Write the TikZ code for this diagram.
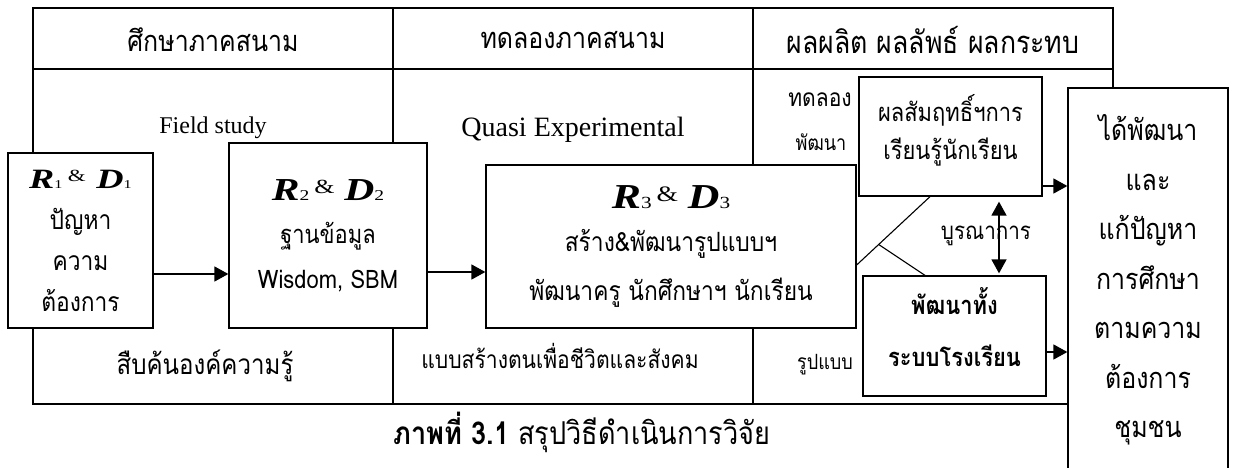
\documentclass[tikz,border=0pt]{standalone}
\usepackage{graphicx}
\usepackage{fontspec}
\setmainfont{Liberation Serif}
\newfontfamily\thaifont[Script=Thai, FakeStretch=0.86]{Loma}
\usetikzlibrary{arrows.meta}
\newcommand{\thai}[2]{{\fontsize{#1}{#1}\selectfont\thaifont #2}}
% R_n & D_n: digit, letter size, subscript size, & size, horizontal scale
\newcommand{\rd}[5]{\scalebox{#5}[1]{\normalfont
  {\fontsize{#2}{#2}\selectfont\bfseries\itshape R}%
  {\fontsize{#3}{#3}\selectfont #1}\hspace{0.15em}%
  \raisebox{0.25em}{\fontsize{#4}{#4}\selectfont\&}\hspace{0.3em}%
  {\fontsize{#2}{#2}\selectfont\bfseries\itshape D}%
  {\fontsize{#3}{#3}\selectfont #1}}}

\begin{document}
\begin{tikzpicture}[x=1pt, y=-1pt,
    frame/.style={line width=1.3pt},
    box/.style={draw, line width=1.3pt, fill=white, inner sep=0pt, align=center},
    arr/.style={line width=1.6pt, -{Triangle[length=14pt, width=15pt]}},
    dbl/.style={line width=1.6pt, {Triangle[length=14pt, width=15pt]}-{Triangle[length=14pt, width=15pt]}},
    link/.style={line width=1.1pt}]

  \fill[white] (0,0) rectangle (1234,468);
  \useasboundingbox (0,0) rectangle (1234,468);

  %% frame: header row and three columns
  \draw[frame] (33,8) rectangle (1113,404);
  \draw[frame] (33,69) -- (1113,69);
  \draw[frame] (393,8) -- (393,404);
  \draw[frame] (753,8) -- (753,404);

  \node (head1) at (213,40) {\thai{29}{ศึกษาภาคสนาม}};
  \node (head2) at (573,40) {\thai{29}{ทดลองภาคสนาม}};
  \node (head3) at (933,40) {\thai{31}{ผลผลิต ผลลัพธ์ ผลกระทบ}};

  \node (field) at (213,128) {\fontsize{24}{24}\selectfont Field study};
  \node (quasi) at (573,130) {\fontsize{28}{28}\selectfont Quasi Experimental};
  \node (trial) at (820,100) {\thai{24.5}{ทดลอง}};
  \node (devel) at (821,142) {\thai{21}{พัฒนา}};

  \node (search) at (205,366) {\thai{28}{สืบค้นองค์ความรู้}};
  \node (model)  at (560,356) {\thai{24.5}{แบบสร้างตนเพื่อชีวิตและสังคม}};
  \node (form)   at (825,365) {\thai{21}{รูปแบบ}};

  %% boxes
  \node[box, minimum width=145pt, minimum height=175pt,
        font=\thaifont\fontsize{26.5}{41}\selectfont] (rd1) at (80.5,240.5)
    {\rd{1}{28}{12}{17}{1.35}\\ปัญหา\\ความ\\ต้องการ};
  \node[box, minimum width=198pt, minimum height=185pt,
        font=\thaifont\fontsize{25.5}{45}\selectfont] (rd2) at (328,235.5)
    {\rd{2}{32}{15}{20}{1.3}\\[-2pt]ฐานข้อมูล\\Wisdom, SBM};
  \node[box, minimum width=370pt, minimum height=163pt,
        font=\thaifont\fontsize{26.5}{49}\selectfont] (rd3) at (671,246.5)
    {\rd{3}{35}{17}{22}{1.25}\\[-6pt]สร้าง\&พัฒนารูปแบบฯ\\พัฒนาครู นักศึกษาฯ นักเรียน};
  \node[box, minimum width=183pt, minimum height=119pt, text depth=20pt,
        font=\thaifont\fontsize{25.5}{38}\selectfont] (achieve) at (950.5,136.5)
    {ผลสัมฤทธิ์ฯการ\\เรียนรู้นักเรียน};
  \node[box, minimum width=183pt, minimum height=120pt, text depth=18pt,
        font=\thaifont\bfseries\fontsize{25.5}{43}\selectfont] (school) at (954.5,336)
    {พัฒนาทั้ง\\[9pt]ระบบโรงเรียน};
  \node[box, minimum width=160pt, minimum height=384pt,
        font=\thaifont\fontsize{29}{49.5}\selectfont] (outcome) at (1148,280)
    {ได้พัฒนา\\และ\\แก้ปัญหา\\การศึกษา\\ตามความ\\ต้องการ\\ชุมชน};

  \node (integ) at (986,236) {\thai{24}{บูรณาการ}};

  %% connectors
  \draw[arr] (rd1.east |- 0,274) -- (rd2.west |- 0,274);
  \draw[arr] (rd2.east |- 0,272) -- (rd3.west |- 0,272);
  \draw[arr] (achieve.east |- 0,186) -- (outcome.west |- 0,186);
  \draw[arr] (school.east |- 0,352) -- (outcome.west |- 0,352);
  \draw[dbl, shorten <=5pt, shorten >=2pt] (achieve.south -| 999,0) -- (school.north -| 999,0);
  \draw[link] (rd3.east |- 0,265) -- coordinate[pos=0.3] (fork) (achieve.south -| 930,0);
  \draw[link] (fork) -- (school.north -| 925,0);

  \node (caption) at (582,432)
    {\thai{31.5}{\bfseries ภาพที่ 3.1\mdseries{} สรุปวิธีดำเนินการวิจัย}};
\end{tikzpicture}
\end{document}
